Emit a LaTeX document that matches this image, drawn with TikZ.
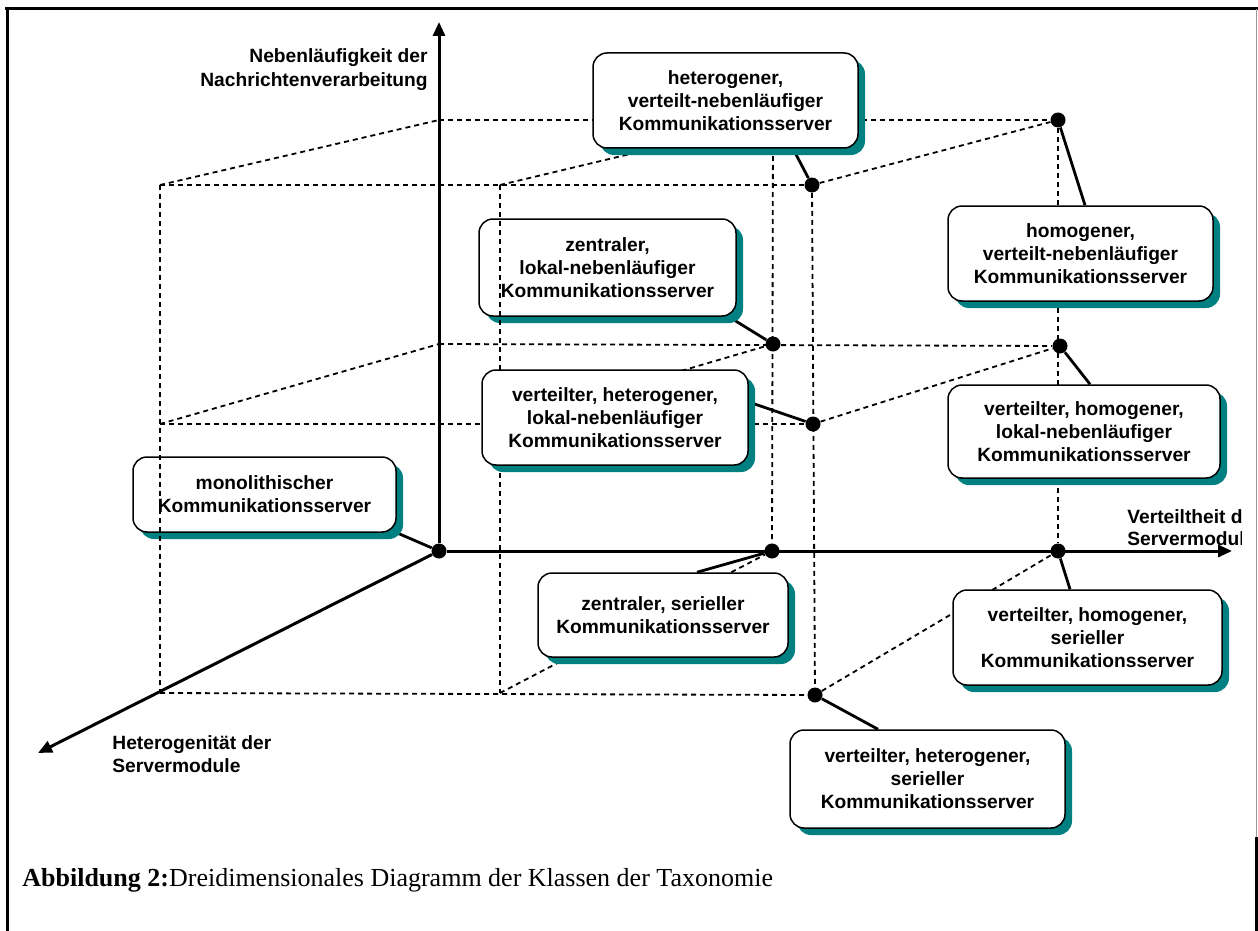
\documentclass[tikz,border=0pt]{standalone}
\usepackage{fontspec}
\setmainfont{Liberation Sans}
\newfontfamily\captionserif{Liberation Serif}
\usepackage{tikz}
\usetikzlibrary{arrows.meta, shadows}
\definecolor{BoxTeal}{HTML}{008080}
\definecolor{FrameGray}{HTML}{9A9A9A}
\pgfdeclarelayer{background}
\pgfsetlayers{background,main}

\begin{document}
\begin{tikzpicture}[x=0.5pt, y=-0.5pt,
    klasse/.style={draw=black, line width=0.75pt, fill=white, rounded corners=7pt, align=center, inner sep=2pt,
        font=\fontsize{9.6}{11.5}\selectfont\bfseries,
        drop shadow={fill=BoxTeal, opacity=1, shadow xshift=3.5pt, shadow yshift=-3.5pt}},
    punkt/.style={circle, fill=black, inner sep=0pt, minimum size=7.5pt},
    achse/.style={->, >={Triangle[length=7pt, width=6pt]}, line width=1.5pt},
    verbinder/.style={line width=1.4pt},
    hilfslinie/.style={dash pattern=on 2.5pt off 2pt, line width=0.9pt},
    achsentext/.style={font=\fontsize{9.6}{12}\selectfont\bfseries, inner sep=0pt}]
                \useasboundingbox (0,0) rectangle (1258,931);

                % Frame
                \draw[line width=1.5pt] (5,9) -- (1258,9);
                \draw[line width=1.5pt] (7,9) -- (7,931);
                \draw[FrameGray, line width=0.8pt] (1256.5,9) -- (1256.5,837);
                \draw[line width=1.5pt] (1256,837) -- (1256,931);

                % Class points
                \node[punkt] (p-mono) at (439,551) {};
                \node[punkt] (p-zs) at (772,551) {};
                \node[punkt] (p-vhoms) at (1058,551) {};
                \node[punkt] (p-zl) at (773,344) {};
                \node[punkt] (p-vhoml) at (1060,346) {};
                \node[punkt] (p-homv) at (1058,120) {};
                \node[punkt] (p-hetv) at (812,185) {};
                \node[punkt] (p-vhetl) at (813,424) {};
                \node[punkt] (p-vhets) at (815,695) {};

                % Cube corners and axis tips
                \coordinate (ytip) at (439,22);
                \coordinate (xtip) at (1232,551);
                \coordinate (ztip) at (38,753);
                \coordinate (b01) at (439,344);
                \coordinate (b02) at (439,120);
                \coordinate (b12) at (773,120);
                \coordinate (f00) at (160,693);
                \coordinate (f10) at (500,693);
                \coordinate (f01) at (160,424);
                \coordinate (f11) at (500,424);
                \coordinate (f02) at (160,185);
                \coordinate (f12) at (500,185);

                % Class boxes
                \node[klasse, minimum width=132.5pt, minimum height=47.5pt] (k-hetv) at (725.5,100.5) {heterogener,\\verteilt-nebenläufiger\\Kommunikationsserver};
                \node[klasse, minimum width=128.5pt, minimum height=48.5pt] (k-zl) at (607.5,267.5) {zentraler,\\lokal-nebenläufiger\\Kommunikationsserver};
                \node[klasse, minimum width=133pt, minimum height=47.5pt] (k-vhetl) at (615,417.5) {verteilter, heterogener,\\lokal-nebenläufiger\\Kommunikationsserver};
                \node[klasse, minimum width=131.5pt, minimum height=37.5pt] (k-mono) at (264.5,494.5) {monolithischer\\Kommunikationsserver};
                \node[klasse, minimum width=125pt, minimum height=42pt] (k-zs) at (663,615) {zentraler, serieller\\Kommunikationsserver};
                \node[klasse, minimum width=134.5pt, minimum height=47.5pt] (k-vhoms) at (1087.5,637.5) {verteilter, homogener,\\serieller\\Kommunikationsserver};
                \node[klasse, minimum width=137.5pt, minimum height=49pt] (k-vhets) at (927.5,779) {verteilter, heterogener,\\serieller\\Kommunikationsserver};
                \node[klasse, minimum width=132.5pt, minimum height=47.5pt] (k-homv) at (1080.5,253.5) {homogener,\\verteilt-nebenläufiger\\Kommunikationsserver};
                \node[klasse, minimum width=136pt, minimum height=46.5pt] (k-vhoml) at (1084,431.5) {verteilter, homogener,\\lokal-nebenläufiger\\Kommunikationsserver};

                \begin{pgfonlayer}{background}
                % Dashed cube
                \foreach \a/\b in {b01/p-vhoml, b02/p-homv, b12/p-zs, p-homv/p-vhoms,
                        f00/p-vhets, f01/p-vhetl, f02/p-hetv, f12/f10, p-hetv/p-vhets,
                        f02/b02, f12/b12, p-hetv/p-homv, f01/b01, f11/p-zl, p-vhetl/p-vhoml,
                        f10/p-zs, p-vhets/p-vhoms}
                    \draw[hilfslinie] (\a) -- (\b);

                % Connectors
                \draw[verbinder] (k-mono.south east) -- (p-mono);
                \draw[verbinder] ([xshift=17pt]k-zs.north) -- (p-zs);
                \draw[verbinder] ([xshift=-8.75pt]k-vhoms.north) -- (p-vhoms);
                \draw[verbinder] ([xshift=-24.75pt]k-vhets.north) -- (p-vhets);
                \draw[verbinder] ([xshift=2.25pt]k-homv.north) -- (p-homv);
                \draw[verbinder] ([xshift=3pt]k-vhoml.north) -- (p-vhoml);
                \draw[verbinder] ([xshift=33.75pt]k-hetv.south) -- (p-hetv);
                \draw[verbinder] ([xshift=-4pt]k-zl.south east) -- (p-zl);
                \draw[verbinder] ([yshift=7.75pt]k-vhetl.east) -- (p-vhetl);
                \end{pgfonlayer}

                % Dashed lines running over boxes
                \draw[hilfslinie] (f02) -- (f00);
                \draw[hilfslinie] (f12) -- (f12 |- k-vhetl.north);

                % Coordinate axes
                \draw[achse] (p-mono) -- (ytip);
                \draw[achse] (p-mono) -- (xtip);
                \draw[achse] (p-mono) -- (ztip);

                % Axis labels
                \node[achsentext, anchor=east, align=right] (l-neben) at (428,70) {Nebenläufigkeit der\\Nachrichtenverarbeitung};
                \begin{scope}
                    \clip (0,0) rectangle (1241,931);
                    \node[achsentext, anchor=west, align=left, font=\fontsize{9.6}{11}\selectfont\bfseries] (l-vert) at (1127,528) {Verteiltheit der\\Servermodule};
                \end{scope}
                \node[achsentext, anchor=west, align=left, font=\fontsize{9.6}{11.5}\selectfont\bfseries] (l-het) at (112,754) {Heterogenität der\\Servermodule};

                % Caption
                \node[anchor=base west, inner sep=0pt, font=\captionserif\fontsize{13}{15}\selectfont] (caption) at (22,886) {\textbf{Abbildung 2:}Dreidimensionales Diagramm der Klassen der Taxonomie};
            \end{tikzpicture}
\end{document}
